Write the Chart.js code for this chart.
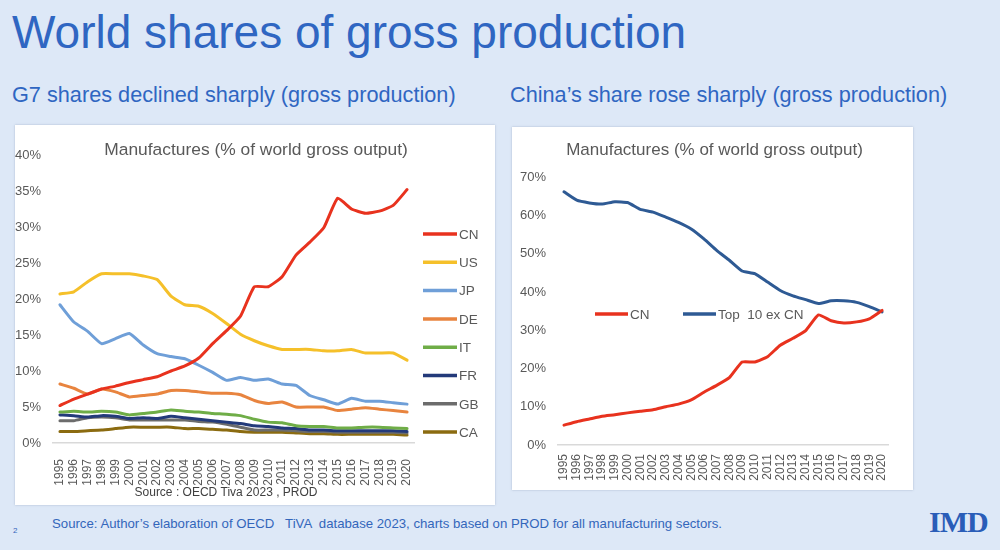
<!DOCTYPE html>
<html>
<head>
<meta charset="utf-8">
<script src="https://cdn.jsdelivr.net/npm/chart.js@4/dist/chart.umd.min.js"></script>
<style>
  body { margin: 0; width: 1000px; height: 550px; background: #dde8f7; position: relative; overflow: hidden; font-family: "Liberation Sans", Arial, sans-serif; }
  .title { position: absolute; left: 12px; top: 5px; font-size: 46px; color: #2f66c2; white-space: nowrap; }
  .sub { position: absolute; top: 82px; font-size: 21.7px; color: #2f66c2; white-space: nowrap; }
  .panel { position: absolute; background: #fff; box-shadow: 0 0 2px rgba(120,140,170,0.5); }
  .panel canvas { display: block; }
  .foot { position: absolute; left: 52px; top: 516px; font-size: 13.2px; font-family: "Liberation Sans Narrow", "Liberation Sans", sans-serif; color: #3366bb; white-space: nowrap; }
  .page { position: absolute; left: 13px; top: 526px; font-size: 8px; color: #3366bb; }
  .logo { position: absolute; left: 929px; top: 505px; font-size: 30px; font-weight: bold; font-family: "Liberation Serif", serif; color: #2a5db8; letter-spacing: -1px; }
</style>
</head>
<body>
<div class="title">World shares of gross production</div>
<div class="sub" style="left:12px">G7 shares declined sharply (gross production)</div>
<div class="sub" style="left:510px">China’s share rose sharply (gross production)</div>

<div class="panel" style="left:15px;top:125px;width:480px;height:380px"><canvas id="g7" width="480" height="380"></canvas></div>
<div class="panel" style="left:512px;top:127px;width:401px;height:363px"><canvas id="china" width="401" height="363"></canvas></div>

<div class="page">2</div>
<div class="foot">Source: Author’s elaboration of OECD &nbsp; TiVA &nbsp;database 2023, charts based on PROD for all manufacturing sectors.</div>
<div class="logo">IMD</div>

<script>
// Data
const years = ['1995','1996','1997','1998','1999','2000','2001','2002','2003','2004','2005','2006','2007',
               '2008','2009','2010','2011','2012','2013','2014','2015','2016','2017','2018','2019','2020'];

const cn = [5.2, 6.1, 6.8, 7.5, 7.9, 8.4, 8.8, 9.2, 10.0, 10.7, 11.8, 13.8, 15.6, 17.6, 21.7, 21.7, 23.1, 26.1, 27.9, 29.9, 34.0, 32.5, 31.9, 32.2, 33.0, 35.2];
const us = [20.7, 21.0, 22.4, 23.5, 23.5, 23.5, 23.2, 22.7, 20.4, 19.2, 19.0, 18.0, 16.6, 15.1, 14.2, 13.5, 13.0, 13.0, 13.0, 12.8, 12.8, 13.0, 12.5, 12.5, 12.5, 11.5];
const jp = [19.2, 16.8, 15.5, 13.8, 14.5, 15.2, 13.6, 12.4, 12.0, 11.7, 10.8, 9.8, 8.7, 9.1, 8.7, 8.9, 8.2, 8.0, 6.6, 6.0, 5.4, 6.2, 5.8, 5.8, 5.6, 5.4];
const de = [8.2, 7.6, 6.8, 7.5, 7.1, 6.4, 6.6, 6.8, 7.3, 7.3, 7.1, 6.9, 6.9, 6.7, 5.9, 5.5, 5.7, 5.0, 5.0, 5.0, 4.5, 4.7, 4.9, 4.7, 4.5, 4.3];
const it = [4.3, 4.4, 4.3, 4.4, 4.3, 3.9, 4.1, 4.3, 4.6, 4.4, 4.3, 4.1, 4.0, 3.8, 3.3, 2.9, 2.8, 2.4, 2.3, 2.3, 2.1, 2.1, 2.2, 2.2, 2.1, 2.0];
const fr = [3.9, 3.8, 3.6, 3.8, 3.7, 3.4, 3.5, 3.4, 3.7, 3.5, 3.3, 3.1, 2.9, 2.7, 2.4, 2.3, 2.1, 2.0, 1.8, 1.8, 1.7, 1.7, 1.7, 1.7, 1.7, 1.6];
const gb = [3.1, 3.1, 3.5, 3.6, 3.5, 3.2, 3.2, 3.2, 3.2, 3.2, 3.0, 2.9, 2.6, 2.2, 1.8, 1.8, 1.8, 1.7, 1.6, 1.6, 1.5, 1.5, 1.5, 1.5, 1.5, 1.4];
const ca = [1.6, 1.6, 1.7, 1.8, 2.0, 2.2, 2.2, 2.2, 2.2, 2.0, 2.0, 1.9, 1.8, 1.6, 1.5, 1.5, 1.5, 1.4, 1.3, 1.3, 1.2, 1.2, 1.2, 1.2, 1.2, 1.1];
const top10exCn = [66.2, 64.0, 63.3, 63.0, 63.6, 63.4, 61.6, 60.9, 59.6, 58.2, 56.5, 53.9, 50.9, 48.3, 45.5, 44.8, 42.6, 40.4, 39.0, 38.0, 37.0, 37.7, 37.7, 37.3, 36.2, 34.8];

const g7Labels = ['CN', 'US', 'JP', 'DE', 'IT', 'FR', 'GB', 'CA'];
const g7Series = [cn, us, jp, de, it, fr, gb, ca];
const g7Colors = ['#e8321e', '#f5c02a', '#6f9fd8', '#e8843f', '#6fad47', '#233a7a', '#6c6c6c', '#8b6b10'];

const leftTicks = [0, 5, 10, 15, 20, 25, 30, 35, 40];
const rightTicks = [0, 10, 20, 30, 40, 50, 60, 70];

const axisGray = '#595959';

// Draws the in-panel title, source line and line-style legend
const panelText = {
    id: 'panelText',
    afterDraw(chart, args, opts) {
        const ctx = chart.ctx;
        ctx.save();
        ctx.textBaseline = 'middle';
        (opts.texts || []).forEach(t => {
            ctx.font = t.font;
            ctx.fillStyle = t.color;
            ctx.textAlign = 'center';
            ctx.fillText(t.text, t.x, t.y);
        });
        const lg = opts.legend;
        if (lg) {
            chart.data.datasets.forEach((ds, i) => {
                const x = lg.x + i * lg.dx;
                const y = lg.y + i * lg.dy;
                ctx.strokeStyle = ds.borderColor;
                ctx.lineWidth = 3.5;
                ctx.beginPath();
                ctx.moveTo(x, y);
                ctx.lineTo(x + lg.w, y);
                ctx.stroke();
                ctx.fillStyle = axisGray;
                ctx.font = lg.font;
                ctx.textAlign = 'left';
                ctx.fillText(ds.label, x + lg.w + 2, y + 1);
            });
        }
        ctx.restore();
    }
};

function makeScales(ticks, yWidth, yPad, xHeight, xPad) {
    return {
        x: {
            offset: true,
            grid: { display: false },
            border: { display: true, color: '#d9d9d9', width: 1.5 },
            ticks: { autoSkip: false, maxRotation: 90, minRotation: 90, padding: xPad, color: axisGray, font: { family: 'Liberation Sans', size: 12 } },
            afterFit: s => { s.height = xHeight; }
        },
        y: {
            min: ticks[0],
            max: ticks[ticks.length - 1],
            afterBuildTicks: s => { s.ticks = ticks.map(v => ({ value: v })); },
            grid: { display: false },
            border: { display: false },
            ticks: { padding: yPad, color: axisGray, font: { family: 'Liberation Sans', size: 13 }, callback: v => v + '%' },
            afterFit: s => { s.width = yWidth; }
        }
    };
}

function lineDataset(label, data, color) {
    return {
        label: label,
        data: data,
        borderColor: color,
        backgroundColor: color,
        borderWidth: 3,
        pointRadius: 0,
        tension: 0.15,
        borderJoinStyle: 'round',
        borderCapStyle: 'round'
    };
}

// Left chart: G7 + China
new Chart(document.getElementById('g7'), {
    type: 'line',
    data: {
        labels: years,
        datasets: g7Labels.map((lab, i) => lineDataset(lab, g7Series[i], g7Colors[i]))
    },
    options: {
        responsive: false,
        animation: false,
        devicePixelRatio: 1,
        layout: { padding: { top: 30, right: 81, left: 0, bottom: 0 } },
        plugins: {
            legend: { display: false },
            tooltip: { enabled: false },
            panelText: {
                texts: [
                    { text: 'Manufactures (% of world gross output)', x: 241, y: 25, font: '17.4px "Liberation Sans"', color: axisGray },
                    { text: 'Source : OECD Tiva 2023 , PROD', x: 211, y: 368, font: '12px "Liberation Sans"', color: '#404040' }
                ],
                legend: { x: 408, y: 109, dx: 0, dy: 28.3, w: 34, font: '13.5px "Liberation Sans"' }
            }
        },
        scales: makeScales(leftTicks, 38, 4, 62, 8)
    },
    plugins: [panelText]
});

// Right chart: China vs top 10 ex China
new Chart(document.getElementById('china'), {
    type: 'line',
    data: {
        labels: years,
        datasets: [
            lineDataset('CN', cn, '#e8321e'),
            lineDataset('Top  10 ex CN', top10exCn, '#2e5a94')
        ]
    },
    options: {
        responsive: false,
        animation: false,
        devicePixelRatio: 1,
        layout: { padding: { top: 50.3, right: 24.6, left: 0, bottom: 0 } },
        plugins: {
            legend: { display: false },
            tooltip: { enabled: false },
            panelText: {
                texts: [
                    { text: 'Manufactures (% of world gross output)', x: 202.5, y: 23, font: '17px "Liberation Sans"', color: axisGray }
                ],
                legend: { x: 83, y: 187, dx: 88, dy: 0, w: 33, font: '13.5px "Liberation Sans"' }
            }
        },
        scales: makeScales(rightTicks, 45.6, 3.6, 45, 1)
    },
    plugins: [panelText]
});
</script>
</body>
</html>
